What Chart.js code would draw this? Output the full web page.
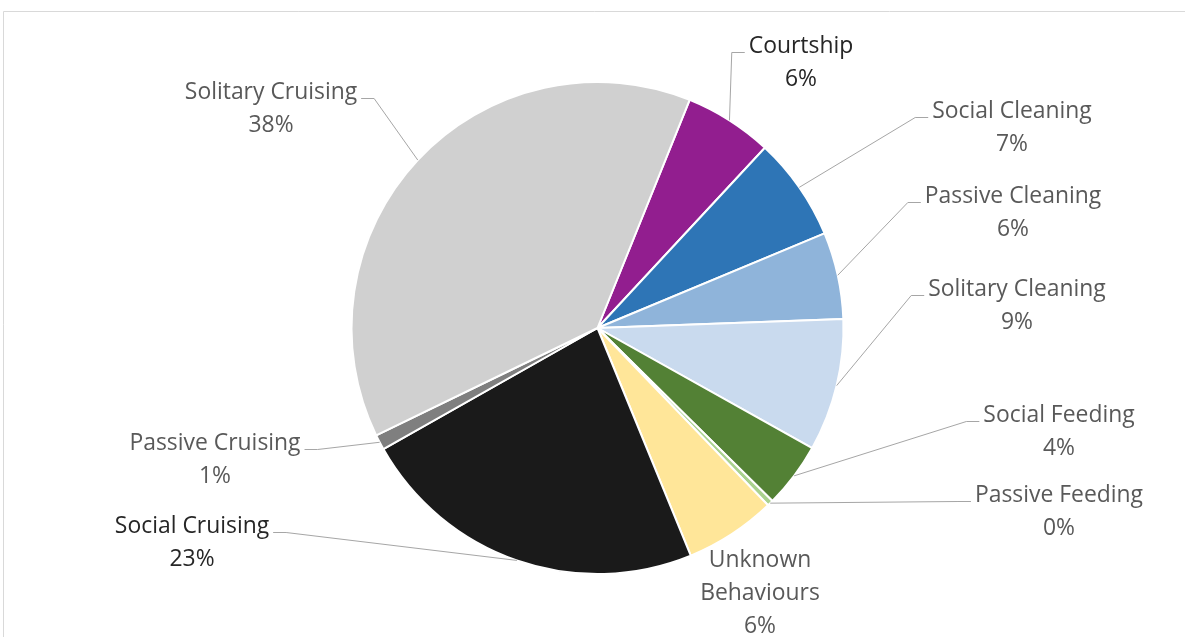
<!DOCTYPE html>
<html>
<head>
<meta charset="utf-8">
<script src="https://cdn.jsdelivr.net/npm/chart.js@4/dist/chart.umd.min.js"></script>
<style>
html,body{margin:0;padding:0;background:#fff;}
#wrap{position:relative;width:1185px;height:637px;}
</style>
</head>
<body>
<div id="wrap"><canvas id="c" width="1185" height="637"></canvas></div>
<script>
// ---- data ----
const categories = ["Courtship","Social Cleaning","Passive Cleaning","Solitary Cleaning","Social Feeding","Passive Feeding","Unknown Behaviours","Social Cruising","Passive Cruising","Solitary Cruising"];
const labelLines = [["Courtship"],["Social Cleaning"],["Passive Cleaning"],["Solitary Cleaning"],["Social Feeding"],["Passive Feeding"],["Unknown","Behaviours"],["Social Cruising"],["Passive Cruising"],["Solitary Cruising"]];
const percentValues = [5.8, 6.8, 5.7, 8.7, 4.3, 0.4, 6.0, 23.0, 1.0, 38.3];
const sliceColors = ["#921E8F","#2E75B6","#8FB4DA","#C9DAEE","#538135","#A9D18E","#FFE699","#1A1A1A","#7F7F7F","#D0D0D0"];

// ---- label layout (text centre x, first-line baseline y, side, leader) ----
const labelLayout = [
  {x:801, y:53,  side:'right', leader:true},
  {x:1012,y:118, side:'right', leader:true},
  {x:1013,y:203, side:'right', leader:true},
  {x:1017,y:296, side:'right', leader:true},
  {x:1059,y:422, side:'right', leader:true},
  {x:1059,y:502, side:'right', leader:true},
  {x:760, y:567, side:'right', leader:false},
  {x:192, y:533, side:'left',  leader:true},
  {x:215, y:450, side:'left',  leader:true},
  {x:271, y:99,  side:'left',  leader:true}
];
const labelColors = ["#262626","#595959","#595959","#595959","#595959","#595959","#595959","#262626","#595959","#595959"];
const LINE_H = 33;
const FONT_FAMILY = "'Open Sans', sans-serif";

// fit font size so "Solitary Cruising" is ~174px wide (as in reference)
const mctx = document.createElement('canvas').getContext('2d');
mctx.font = "100px " + FONT_FAMILY;
const fontSize = Math.round(100 * 172 / mctx.measureText("Solitary Cruising").width * 10) / 10;

const framePlugin = {
  id: 'frame',
  beforeDraw(chart) {
    const ctx = chart.ctx;
    ctx.save();
    ctx.fillStyle = '#ffffff';
    ctx.fillRect(0, 0, chart.width, chart.height);
    ctx.strokeStyle = '#D9D9D9';
    ctx.lineWidth = 1;
    ctx.beginPath();
    ctx.moveTo(3.5, chart.height);
    ctx.lineTo(3.5, 11.5);
    ctx.lineTo(chart.width, 11.5);
    ctx.stroke();
    ctx.restore();
  }
};

const labelPlugin = {
  id: 'pieLabels',
  afterDatasetsDraw(chart) {
    const ctx = chart.ctx;
    const meta = chart.getDatasetMeta(0);
    const data = chart.data.datasets[0].data;
    const total = data.reduce((a, b) => a + b, 0);
    ctx.save();
    ctx.font = fontSize + "px " + FONT_FAMILY;
    ctx.textAlign = 'center';
    ctx.textBaseline = 'alphabetic';
    meta.data.forEach((arc, i) => {
      const L = labelLayout[i];
      const lines = labelLines[i].concat([Math.round(data[i] / total * 100) + '%']);
      // leader line
      if (L.leader) {
        const mid = (arc.startAngle + arc.endAngle) / 2;
        const R = arc.outerRadius;
        const sx = arc.x + Math.cos(mid) * R;
        const sy = arc.y + Math.sin(mid) * R;
        const w = ctx.measureText(lines[0]).width;
        const ly = L.y - 0.5;
        let ex, elx;
        if (L.side === 'right') { ex = L.x - w / 2 - 4; elx = ex - 13; }
        else { ex = L.x + w / 2 + 4; elx = ex + 13; }
        ctx.strokeStyle = '#A6A6A6';
        ctx.lineWidth = 1;
        ctx.beginPath();
        ctx.moveTo(sx, sy);
        ctx.lineTo(elx, ly);
        ctx.lineTo(ex, ly);
        ctx.stroke();
      }
      ctx.fillStyle = labelColors[i];
      lines.forEach((t, k) => ctx.fillText(t, L.x, L.y + k * LINE_H));
    });
    ctx.restore();
  }
};

new Chart(document.getElementById('c'), {
  type: 'pie',
  data: {
    labels: categories,
    datasets: [{
      data: percentValues,
      backgroundColor: sliceColors,
      borderColor: '#ffffff',
      borderWidth: 2
    }]
  },
  options: {
    responsive: false,
    animation: false,
    rotation: 22,
    layout: { padding: { top: 81, bottom: 62, left: 10, right: 0 } },
    plugins: { legend: { display: false }, tooltip: { enabled: false } }
  },
  plugins: [framePlugin, labelPlugin]
});
</script>
</body>
</html>
